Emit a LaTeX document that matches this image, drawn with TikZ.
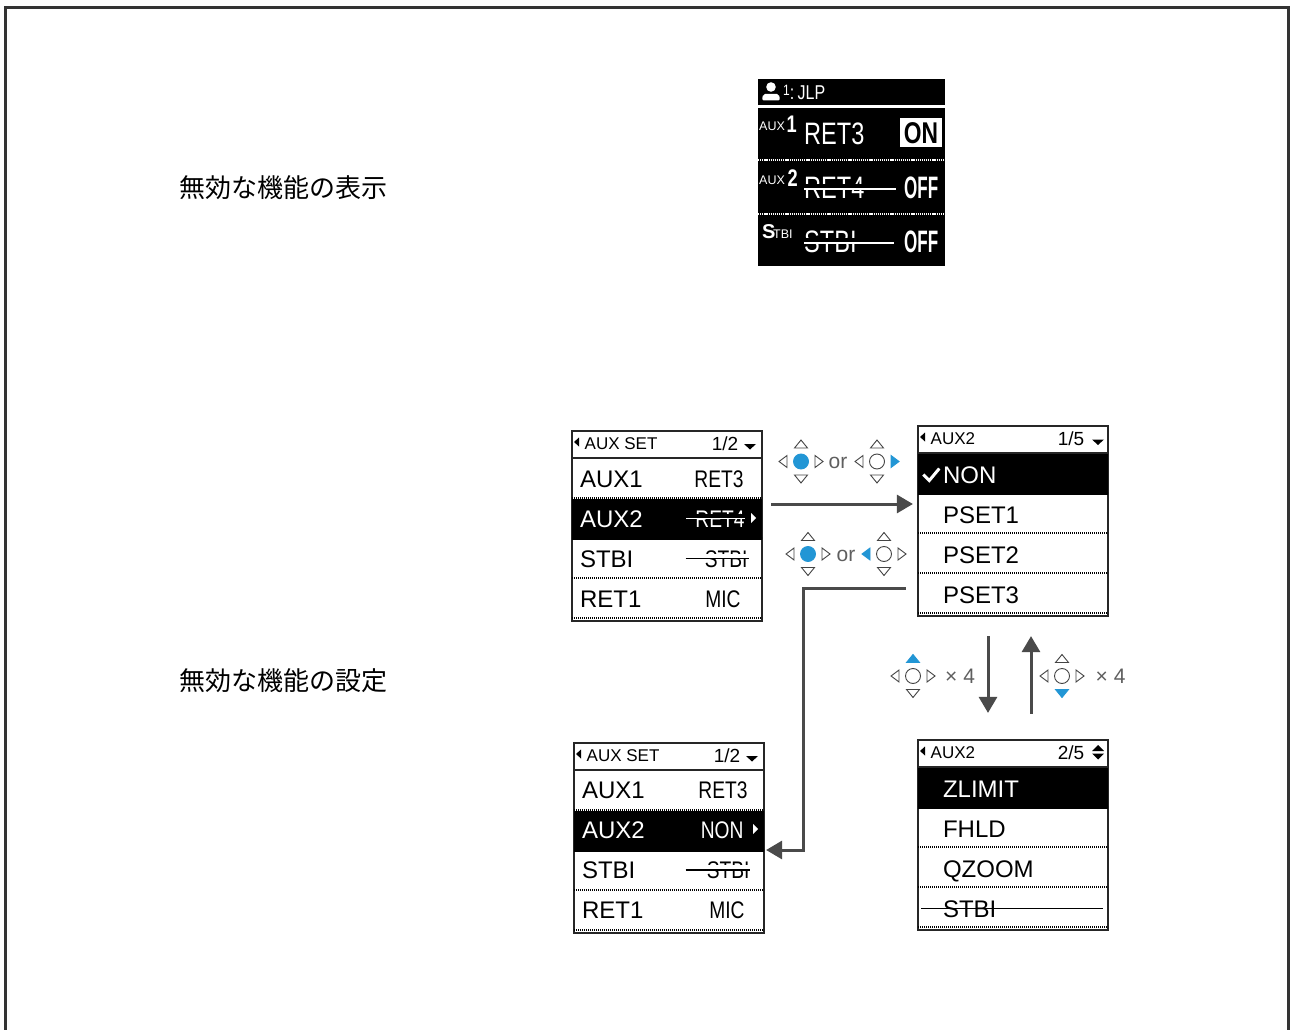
\documentclass[tikz,border=0pt]{standalone}
\usepackage{xcolor}
\usepackage{fontspec}
\usetikzlibrary{positioning,arrows.meta}
\setmainfont{Liberation Sans}
\newfontfamily\narrowfont[FakeStretch=0.8]{Liberation Sans}
\newfontfamily\lcdfont[FakeStretch=0.76]{Liberation Sans}
\newfontfamily\slimfont[FakeStretch=0.55]{Liberation Sans}
\newfontfamily\jpfont{Noto Sans CJK JP}
\definecolor{padblue}{HTML}{2296D5}
\definecolor{padline}{HTML}{444444}
\definecolor{flowgray}{HTML}{4A4A4A}
\definecolor{hintgray}{HTML}{5F5F5F}
\definecolor{framegray}{HTML}{333333}

\tikzset{
  screenbox/.style={draw=black!85,line width=2.2pt,minimum size=190pt,inner sep=0pt},
  rowbox/.style={minimum width=189pt,minimum height=40pt,inner sep=0pt},
  rowname/.style={inner sep=0pt,text height=17pt,text depth=0pt,font=\fontsize{24pt}{24pt}\selectfont},
  rowvalue/.style={inner sep=0pt,text height=17pt,text depth=0pt,font=\narrowfont\fontsize{24pt}{24pt}\selectfont},
  titletext/.style={inner sep=0pt,text height=12.5pt,text depth=0pt,font=\fontsize{17pt}{17pt}\selectfont},
  pagetext/.style={inner sep=0pt,text height=13.5pt,text depth=0pt,font=\fontsize{19pt}{19pt}\selectfont},
  hinttext/.style={inner sep=0pt,text=hintgray,font=\fontsize{21pt}{21pt}\selectfont},
  captiontext/.style={inner sep=0pt,anchor=west,text=black,font=\jpfont\fontsize{26pt}{26pt}\selectfont},
  flowarrow/.style={draw=flowgray,line width=3pt,-{Triangle[length=16pt,width=18pt]}},
  padoff/.style={draw=padline,fill=white,line width=0.9pt},
  padon/.style={draw=padblue,fill=padblue,line width=0.9pt},
  lcdtext/.style={inner sep=0pt,text=white},
}

% frame, title row and dotted rules of one menu screen
\newcommand{\menuscreen}[6]{
  \node[screenbox] (#1) at (#2+96,#3+96) {};
  \foreach \i in {1,2,3,4}
    \node[rowbox] (#1-\i) at (#2+96,#3+49.5+40*\i-40) {};
  \fill[black] (#1-#4.north west) rectangle (#1-#4.south east);
  \draw[black!85,line width=2pt] (#2,#3+28) -- (#2+192,#3+28);
  \foreach \i in {68,108,148,188}
    \draw[black,line width=1.2pt,dash pattern=on 1.2pt off 0.8pt] (#2+1,#3+\i) -- (#2+191,#3+\i);
  \fill[black] (#2+3,#3+12) -- (#2+8,#3+7.5) -- (#2+8,#3+16.5) -- cycle;
  \node[titletext,anchor=west] (#1-title) at (#2+13.5,#3+13.5) {#5};
  \node[pagetext,anchor=east] (#1-page) at (#2+167.5,#3+14) {#6};
}
% button cross: up, right, down, left, centre
\newcommand{\crosspad}[7]{
  \begin{scope}[shift={(#1,#2)}]
    \draw[#3] (-6.5,-13.5) -- (6.5,-13.5) -- (0,-21.5) -- cycle;
    \draw[#4] (14,-6) -- (14,6) -- (22,0) -- cycle;
    \draw[#5] (-6.5,13.5) -- (6.5,13.5) -- (0,21.5) -- cycle;
    \draw[#6] (-14,-6) -- (-14,6) -- (-22,0) -- cycle;
    \draw[#7] (0,0) circle (7.5);
  \end{scope}
}
% struck value: band colour, line colour, then shift and anchor of both ends
\newcommand{\struck}[6]{
  \draw[#1,line width=5pt] ([yshift=2.5pt,#3]#4) -- ([yshift=2.5pt,#5]#6);
  \draw[#2,line width=1.8pt] ([#3]#4) -- ([#5]#6);
}

\begin{document}
\begin{tikzpicture}[x=1pt,y=-1pt]
  \useasboundingbox (0,0) rectangle (1291,1030);
  \fill[white] (0,0) rectangle (1291,1030);
  \draw[framegray,line width=2.5pt] (5.5,1035) -- (5.5,7.5) -- (1288.5,7.5) -- (1288.5,1035);

  \node[captiontext] (offshow) at (179,188) {無効な機能の表示};
  \node[captiontext] (offset) at (179,680.5) {無効な機能の設定};

  % home screen
  \node[fill=black,minimum width=187pt,minimum height=187pt,inner sep=0pt] (lcd) at (851.5,172.5) {};
  \fill[white] (758,105.5) rectangle (945,108);
  \foreach \y in {160,214}
    \draw[white,line width=1.6pt,dash pattern=on 1.2pt off 0.9pt] (758,\y) -- (945,\y);
  \fill[white] (771,87) circle (4.8);
  \fill[white,rounded corners=2pt] (762,100.5) -- (763,94) -- (779,94) -- (780,100.5) -- cycle;
  \node[lcdtext,anchor=west,font=\narrowfont\fontsize{20pt}{20pt}\selectfont] (user) at (783,92) {\raisebox{4pt}{\fontsize{15pt}{15pt}\selectfont 1}:\,JLP};

  \node[lcdtext,anchor=west,font=\fontsize{12.5pt}{12.5pt}\selectfont] (lcdaux1) at (759,126) {AUX};
  \node[lcdtext,anchor=west,font=\lcdfont\bfseries\fontsize{24pt}{24pt}\selectfont] (lcdnum1) at (786.5,124) {1};
  \node[lcdtext,anchor=west,text height=22pt,text depth=0pt,font=\lcdfont\fontsize{31pt}{31pt}\selectfont] (lcdret3) at (804,134) {RET3};
  \node[fill=white,text=black,minimum width=42pt,minimum height=29pt,inner sep=0pt,text height=22pt,text depth=0pt,font=\lcdfont\bfseries\fontsize{30pt}{30pt}\selectfont] (lcdon) at (921,133) {ON};

  \node[lcdtext,anchor=west,font=\fontsize{12.5pt}{12.5pt}\selectfont] (lcdaux2) at (759,180) {AUX};
  \node[lcdtext,anchor=west,font=\lcdfont\bfseries\fontsize{24pt}{24pt}\selectfont] (lcdnum2) at (787.5,178) {2};
  \node[lcdtext,anchor=west,text height=22pt,text depth=0pt,font=\lcdfont\fontsize{31pt}{31pt}\selectfont] (lcdret4) at (804,188) {RET4};
  \node[lcdtext,anchor=east,text height=22pt,text depth=0pt,font=\slimfont\bfseries\fontsize{31pt}{31pt}\selectfont] (lcdoff1) at (938.5,187) {OFF};
  \struck{black}{white}{yshift=-1pt}{lcdret4.west}{xshift=31pt,yshift=-1pt}{lcdret4.east}

  \node[lcdtext,anchor=west,font=\bfseries\fontsize{20pt}{20pt}\selectfont] (lcds) at (762,232) {S};
  \node[lcdtext,anchor=west,font=\fontsize{12.5pt}{12.5pt}\selectfont] (lcdtbi) at (773,234) {TBI};
  \node[lcdtext,anchor=west,text height=22pt,text depth=0pt,font=\lcdfont\fontsize{31pt}{31pt}\selectfont] (lcdstbi) at (804,241) {STBI};
  \node[lcdtext,anchor=east,text height=22pt,text depth=0pt,font=\slimfont\bfseries\fontsize{31pt}{31pt}\selectfont] (lcdoff2) at (938.5,241) {OFF};
  \struck{black}{white}{yshift=-2pt}{lcdstbi.west}{xshift=37pt,yshift=-2pt}{lcdstbi.east}

  % AUX SET before
  \menuscreen{setA}{571}{430}{2}{AUX SET}{1/2}
  \fill[black] (744,444) -- (756,444) -- (750,449.5) -- cycle;
  \begin{scope}[every node/.append style={yshift=1pt}]
    \node[rowname,right=7.5pt of setA-1.west] (setAn1) {AUX1};
    \node[rowname,text=white,right=7.5pt of setA-2.west] (setAn2) {AUX2};
    \node[rowname,right=7.5pt of setA-3.west] (setAn3) {STBI};
    \node[rowname,right=7.5pt of setA-4.west] (setAn4) {RET1};
    \node[rowvalue,left=18pt of setA-1.east] (setAv1) {RET3};
    \node[rowvalue,text=white,left=17pt of setA-2.east] (setAv2) {RET4};
    \node[rowvalue,left=14pt of setA-3.east] (setAv3) {STBI};
    \node[rowvalue,left=21pt of setA-4.east] (setAv4) {MIC};
  \end{scope}
  \struck{black}{white}{xshift=-9pt}{setAv2.west}{xshift=0pt}{setAv2.east}
  \struck{white}{black}{xshift=-19pt}{setAv3.west}{xshift=1pt}{setAv3.east}
  \fill[white] (751,513) -- (756,518) -- (751,523) -- cycle;

  % AUX2 list, page 1
  \menuscreen{listA}{917}{425}{1}{AUX2}{1/5}
  \fill[black] (1092,439.5) -- (1104,439.5) -- (1098,445) -- cycle;
  \node[rowname,text=white,right=24.5pt of listA-1.west] (listAn1) {NON};
  \node[rowname,right=24.5pt of listA-2.west] (listAn2) {PSET1};
  \node[rowname,right=24.5pt of listA-3.west] (listAn3) {PSET2};
  \node[rowname,right=24.5pt of listA-4.west] (listAn4) {PSET3};
  \draw[white,line width=3pt] ([xshift=5pt]listA-1.west) -- ([xshift=11pt,yshift=-6pt]listA-1.west) -- ([xshift=21pt,yshift=6pt]listA-1.west);

  % AUX SET after
  \menuscreen{setB}{573}{742}{2}{AUX SET}{1/2}
  \fill[black] (746,756) -- (758,756) -- (752,761.5) -- cycle;
  \begin{scope}[every node/.append style={yshift=1.5pt}]
    \node[rowname,right=7.5pt of setB-1.west] (setBn1) {AUX1};
    \node[rowname,text=white,right=7.5pt of setB-2.west] (setBn2) {AUX2};
    \node[rowname,right=7.5pt of setB-3.west] (setBn3) {STBI};
    \node[rowname,right=7.5pt of setB-4.west] (setBn4) {RET1};
    \node[rowvalue,left=16pt of setB-1.east] (setBv1) {RET3};
    \node[rowvalue,text=white,left=20pt of setB-2.east] (setBv2) {NON};
    \node[rowvalue,left=14pt of setB-3.east] (setBv3) {STBI};
    \node[rowvalue,left=19pt of setB-4.east] (setBv4) {MIC};
  \end{scope}
  \struck{white}{black}{xshift=-21pt}{setBv3.west}{xshift=0pt}{setBv3.east}
  \fill[white] (753,824) -- (758,829) -- (753,834) -- cycle;

  % AUX2 list, page 2
  \menuscreen{listB}{917}{739}{1}{AUX2}{2/5}
  \fill[black] (1092,751) -- (1104,751) -- (1098,745) -- cycle;
  \fill[black] (1092,753.5) -- (1104,753.5) -- (1098,759.5) -- cycle;
  \node[rowname,text=white,right=24.5pt of listB-1.west] (listBn1) {ZLIMIT};
  \node[rowname,right=24.5pt of listB-2.west] (listBn2) {FHLD};
  \node[rowname,right=24.5pt of listB-3.west] (listBn3) {QZOOM};
  \node[rowname,right=24.5pt of listB-4.west] (listBn4) {STBI};
  \draw[black,line width=1.5pt] ([xshift=-21.5pt]listBn4.west) -- ([xshift=106pt]listBn4.east);

  % buttons
  \crosspad{801}{461.5}{padoff}{padoff}{padoff}{padoff}{padon}
  \node[hinttext] (orA) at (838,463) {or};
  \crosspad{877}{461.5}{padoff}{padon}{padoff}{padoff}{padoff}
  \crosspad{808}{554}{padoff}{padoff}{padoff}{padoff}{padon}
  \node[hinttext] (orB) at (846,556) {or};
  \crosspad{884}{554}{padoff}{padoff}{padoff}{padon}{padoff}
  \crosspad{913}{676}{padon}{padoff}{padoff}{padoff}{padoff}
  \node[hinttext,anchor=west] (timesA) at (945,676) {× 4};
  \crosspad{1062}{676}{padoff}{padoff}{padon}{padoff}{padoff}
  \node[hinttext,anchor=west] (timesB) at (1095.5,676) {× 4};

  \coordinate (bendB) at (803,850);
  \draw[flowarrow] ([xshift=8pt,yshift=22pt]setA.east) -- ([xshift=-4pt,yshift=17pt]listA.west);
  \draw[flowarrow] ([xshift=-11pt,yshift=29pt]listA.south west) -| (bendB) -- ([xshift=1pt,yshift=-12pt]setB.east);
  \draw[flowarrow] ([xshift=-25pt,yshift=-19pt]listA.south) -- ([xshift=-25pt,yshift=26pt]listB.north);
  \draw[flowarrow] ([xshift=18pt,yshift=25pt]listB.north) -- ([xshift=18pt,yshift=-19pt]listA.south);
\end{tikzpicture}
\end{document}
